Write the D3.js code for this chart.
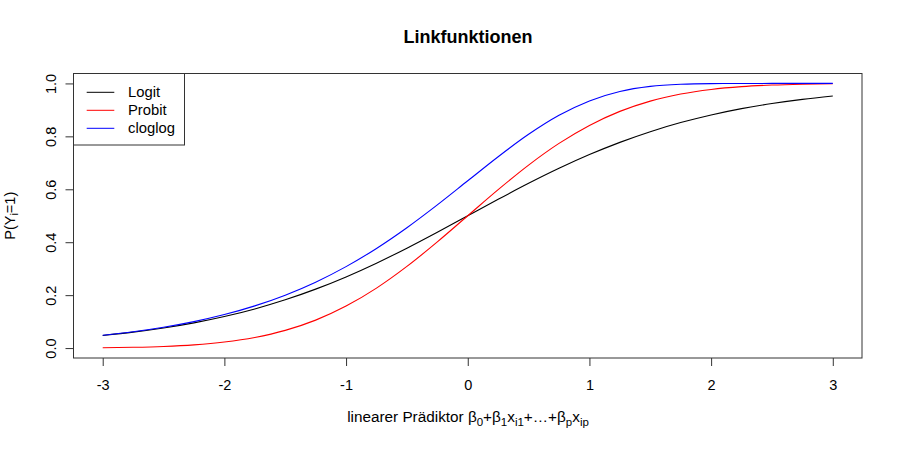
<!DOCTYPE html>
<html><head><meta charset="utf-8">
<script src="https://cdn.jsdelivr.net/npm/d3@7"></script>
<style>body{margin:0;background:#fff}svg{display:block;font-family:"Liberation Sans",Arial,sans-serif}</style>
</head><body><svg id="c" width="900" height="450"></svg>
<script>
const xs = [-3,-2.75,-2.5,-2.25,-2,-1.75,-1.5,-1.25,-1,-0.75,-0.5,-0.25,0,0.25,0.5,0.75,1,1.25,1.5,1.75,2,2.25,2.5,2.75,3];
const logit = [0.0474,0.0601,0.0759,0.0953,0.1192,0.1480,0.1824,0.2227,0.2689,0.3208,0.3775,0.4378,0.5,0.5622,0.6225,0.6792,0.7311,0.7773,0.8176,0.8520,0.8808,0.9047,0.9241,0.9399,0.9526];
const probit = [0.0013,0.0030,0.0062,0.0122,0.0228,0.0401,0.0668,0.1056,0.1587,0.2266,0.3085,0.4013,0.5,0.5987,0.6915,0.7734,0.8413,0.8944,0.9332,0.9599,0.9772,0.9878,0.9938,0.9970,0.9987];
const cloglog = [0.0486,0.0619,0.0788,0.1000,0.1266,0.1595,0.2000,0.2491,0.3078,0.3765,0.4548,0.5411,0.6321,0.7231,0.8077,0.8796,0.9340,0.9695,0.9887,0.9968,0.9994,0.9999,1.0000,1.0000,1.0000];
const seriesNames = ["Logit","Probit","cloglog"];
const seriesColors = ["#000000","#ff0000","#0000ff"];
const xTicks = [-3,-2,-1,0,1,2,3];
const xTickLabels = ["-3","-2","-1","0","1","2","3"];
const yTicks = [0.0,0.2,0.4,0.6,0.8,1.0];
const yTickLabels = ["0.0","0.2","0.4","0.6","0.8","1.0"];

const svg = d3.select("#c");
const L = 73.5, R = 862, T = 73.5, B = 358;
const x = d3.scaleLinear().domain([-3.24,3.24]).range([L,R]);
const y = d3.scaleLinear().domain([-0.0375,1.0375]).range([B,T]);

// lines
const series = [logit, probit, cloglog];
const line = d3.line().x((d,i)=>x(xs[i])).y(d=>y(d)).curve(d3.curveMonotoneX);
series.forEach((s,k)=>{
  svg.append("path").datum(s).attr("d",line).attr("fill","none")
    .attr("stroke",seriesColors[k]).attr("stroke-width",1.1);
});

// box
svg.append("rect").attr("x",L).attr("y",T).attr("width",R-L).attr("height",B-T)
  .attr("fill","none").attr("stroke","#333").attr("stroke-width",1);

// x axis
const xa = svg.append("g").attr("transform",`translate(0,${B})`)
  .call(d3.axisBottom(x).tickValues(xTicks).tickSize(8).tickPadding(14)
    .tickFormat((d,i)=>xTickLabels[i]));
xa.select(".domain").remove();
xa.selectAll("line").attr("stroke","#333");
xa.selectAll("text").attr("font-size",14.5).attr("fill","#000").attr("font-family","Liberation Sans, Arial, sans-serif");

// y axis
const ya = svg.append("g").attr("transform",`translate(${L},0)`)
  .call(d3.axisLeft(y).tickValues(yTicks).tickSize(8).tickFormat((d,i)=>yTickLabels[i]));
ya.select(".domain").remove();
ya.selectAll("line").attr("stroke","#333");
ya.selectAll("text").attr("font-size",14.5).attr("fill","#000")
  .attr("font-family","Liberation Sans, Arial, sans-serif")
  .attr("x",null).attr("dy",null)
  .attr("text-anchor","middle")
  .attr("transform","translate(-23,0) rotate(-90)")
  .attr("dy","0.35em");

// title
svg.append("text").attr("x",468).attr("y",43).attr("text-anchor","middle")
  .attr("font-weight","bold").attr("font-size",18).text("Linkfunktionen");

// x label
const xl = svg.append("text").attr("x",468).attr("y",422).attr("text-anchor","middle").attr("font-size",15.3);
const parts = [["linearer Prädiktor β",0],["0",1],["+β",0],["1",1],["x",0],["i1",1],["+…+β",0],["p",1],["x",0],["ip",1]];
parts.forEach(([t,sub],i)=>{
  const prev = i>0 ? parts[i-1][1] : 0;
  const ts = xl.append("tspan").text(t).attr("dy", sub && !prev ? 3.5 : (!sub && prev ? -3.5 : 0));
  if(sub) ts.attr("font-size",11.5);
});

// y label
const yl = svg.append("text").attr("transform",`translate(14.5,${(T+B)/2}) rotate(-90)`)
  .attr("text-anchor","middle").attr("font-size",14.5);
yl.append("tspan").text("P(Y");
yl.append("tspan").text("i").attr("font-size",11).attr("dy",3);
yl.append("tspan").text("=1)").attr("dy",-3);

// legend
const lg = svg.append("g");
lg.append("rect").attr("x",L).attr("y",T).attr("width",184.5-L).attr("height",145-T)
  .attr("fill","#fff").attr("stroke","#333").attr("stroke-width",1);
seriesNames.forEach((n,k)=>{
  const yy = 92.3 + k*18;
  lg.append("line").attr("x1",86.7).attr("x2",114.3).attr("y1",yy).attr("y2",yy)
    .attr("stroke",seriesColors[k]).attr("stroke-width",1);
  lg.append("text").attr("x",128).attr("y",yy).attr("dy","0.35em").attr("font-size",14.8).text(n);
});
</script></body></html>
